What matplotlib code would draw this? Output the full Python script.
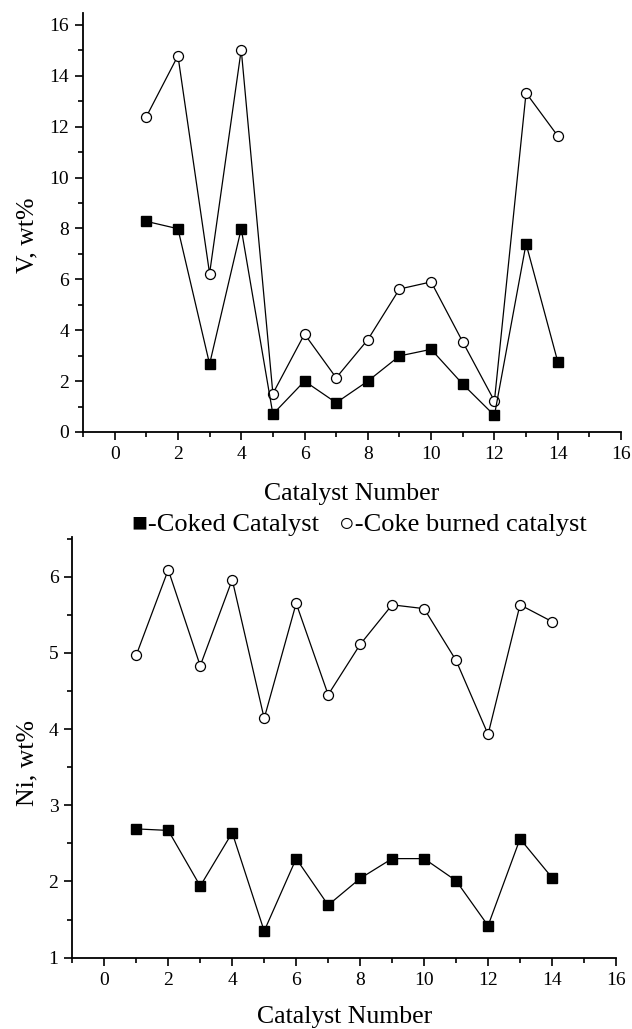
import matplotlib
matplotlib.use("Agg")
import matplotlib.pyplot as plt
from matplotlib.ticker import MultipleLocator

plt.rcParams['font.family'] = ['Liberation Serif', 'DejaVu Serif']

catalyst = [1, 2, 3, 4, 5, 6, 7, 8, 9, 10, 11, 12, 13, 14]

v_coked = [8.28, 7.99, 2.67, 7.99, 0.70, 2.00, 1.15, 2.00, 2.99, 3.25, 1.88, 0.65, 7.40, 2.77]
v_burned = [12.39, 14.79, 6.23, 15.03, 1.51, 3.85, 2.13, 3.63, 5.62, 5.90, 3.54, 1.22, 13.33, 11.64]

ni_coked = [2.69, 2.67, 1.94, 2.64, 1.35, 2.30, 1.69, 2.04, 2.30, 2.30, 2.01, 1.42, 2.56, 2.05]
ni_burned = [4.97, 6.09, 4.83, 5.96, 4.14, 5.65, 4.45, 5.11, 5.63, 5.58, 4.90, 3.93, 5.63, 5.41]

x_label = "Catalyst Number"
v_label = "V, wt%"
ni_label = "Ni, wt%"
legend_text = "\u25a0-Coked Catalyst   \u25cb-Coke burned catalyst"

W, H = 632, 1029
fig = plt.figure(figsize=(W / 100, H / 100), dpi=100)

ax1 = fig.add_axes([83 / W, 1 - 432 / H, (621 - 83) / W, (432 - 13) / H])
ax2 = fig.add_axes([72.3 / W, 1 - 957.7 / H, (616 - 72.3) / W, (957.7 - 537) / H])


def style(ax, ylim, ymajor, yminor, ylabel, ylab_xy, xlab_y):
    ax.set_xlim(-1, 16)
    ax.set_ylim(*ylim)
    ax.xaxis.set_major_locator(MultipleLocator(2))
    ax.xaxis.set_minor_locator(MultipleLocator(1))
    ax.yaxis.set_major_locator(MultipleLocator(ymajor))
    ax.yaxis.set_minor_locator(MultipleLocator(yminor))
    for s in ['top', 'right']:
        ax.spines[s].set_visible(False)
    for s in ['left', 'bottom']:
        ax.spines[s].set_linewidth(1.3)
    ax.tick_params(which='major', direction='out', length=6, width=1.2, labelsize=14, pad=4)
    ax.tick_params(which='minor', direction='out', length=3.5, width=1.2)
    ax.set_xlabel(x_label, fontsize=18.5)
    ax.set_ylabel(ylabel, fontsize=18.5)
    ax.yaxis.set_label_coords(*ylab_xy)
    ax.xaxis.set_label_coords(0.5, xlab_y)


def draw(ax, coked, burned):
    ax.plot(catalyst, burned, color='k', lw=0.9, marker='o', ms=7.2,
            mfc='white', mec='k', mew=0.9, zorder=3)
    ax.plot(catalyst, coked, color='k', lw=0.9, marker='s', ms=6.6,
            mfc='k', mec='k', zorder=3)


draw(ax1, v_coked, v_burned)
draw(ax2, ni_coked, ni_burned)

style(ax1, (0, 16.47), 2, 1, v_label, (-0.082, 0.47), -0.122)
style(ax2, (1, 6.52), 1, 0.5, ni_label, (-0.063, 0.463), -0.114)

fig.text(359 / W, 1 - 525 / H, legend_text, ha='center', va='center', fontsize=19)

fig.savefig("out.png", dpi=100)
